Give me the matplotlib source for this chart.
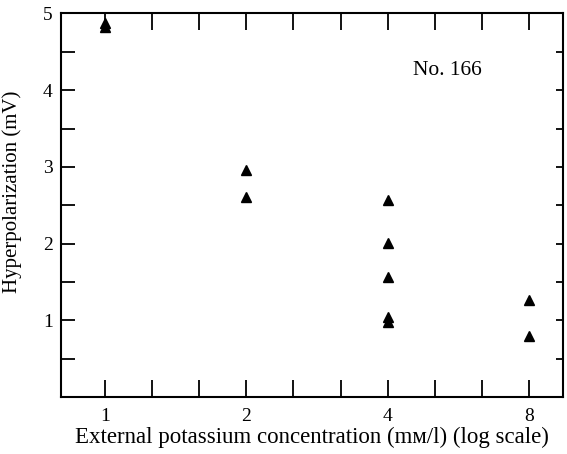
import matplotlib
matplotlib.use("Agg")
import matplotlib.pyplot as plt
from matplotlib.ticker import FixedLocator, NullFormatter

plt.rcParams['font.family'] = ['Liberation Serif', 'DejaVu Serif']

# K+ concentration (mM/l) and hyperpolarization (mV), cell No. 166
conc = [1, 1, 2, 2, 4, 4, 4, 4, 4, 8, 8]
hyperpol = [4.88, 4.82, 2.96, 2.61, 2.57, 2.01, 1.56, 1.04, 0.98, 1.26, 0.79]

x_major = [1, 2, 4, 8]
x_minor = [2 ** (k / 3) for k in range(1, 9) if k % 3 != 0]
y_labels = [1, 2, 3, 4, 5]
y_ticks = [0.5 * k for k in range(1, 11)]

fig = plt.figure(figsize=(5.67, 4.54), dpi=100)
ax = fig.add_axes([0.1076, 0.1256, 0.8854, 0.8447])

ax.plot(conc, hyperpol, linestyle='none', marker='^', color='black',
        markersize=7)

ax.set_xscale('log', base=2)
ax.set_xlim(0.806, 9.45)
ax.set_ylim(0, 5)

ax.xaxis.set_major_locator(FixedLocator(x_major))
ax.xaxis.set_minor_locator(FixedLocator(x_minor))
ax.set_xticklabels([str(v) for v in x_major])
ax.xaxis.set_minor_formatter(NullFormatter())

ax.yaxis.set_major_locator(FixedLocator(y_ticks))
ax.set_yticklabels([str(int(v)) if v in y_labels else '' for v in y_ticks])

ax.tick_params(axis='x', which='both', direction='in', length=12, width=1.3,
               top=True, labelsize=14, pad=8)
ax.tick_params(axis='y', which='both', direction='in', length=10, width=1.3,
               right=True, labelsize=14, pad=6)
# shorter ticks on the right spine
for line in ax.yaxis.get_majorticklines()[1::2]:
    line.set_markersize(5)

for s in ax.spines.values():
    s.set_linewidth(1.5)

ax.set_xlabel('External potassium concentration (mм/l) (log scale)',
              fontsize=16.5, labelpad=1)
ax.set_ylabel('Hyperpolarization (mV)', fontsize=15)
ax.yaxis.set_label_coords(-0.078, 0.534)

ax.text(4.53, 4.26, 'No. 166', fontsize=15.5, ha='left', va='center')

fig.savefig('out.png', dpi=100)
